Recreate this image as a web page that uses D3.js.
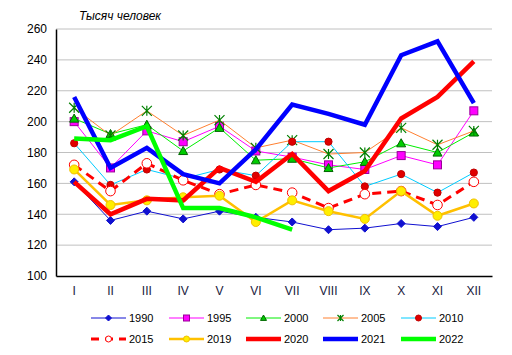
<!DOCTYPE html>
<html><head><meta charset="utf-8">
<script src="https://cdn.jsdelivr.net/npm/d3@7"></script>
<style>body{margin:0;background:#fff;}svg{display:block;font-family:Arial,"Liberation Sans",sans-serif;}</style>
</head><body><svg id="c" width="512" height="355"></svg>
<script>
const months = ["I","II","III","IV","V","VI","VII","VIII","IX","X","XI","XII"];
const yTicks = [100,120,140,160,180,200,220,240,260];
const s1990 = [161,136,142,137,142,138,135,130,131,134,132,138];
const s1995 = [200,170,194,187,197,181,177,172,169,178,172,207];
const s2000 = [202,192,198,181,196,175,176,170,174,186,180,193];
const s2005 = [209,191,207,191,201,183,188,179,180,196,185,194];
const s2010 = [186,159,169,163,169,165,187,187,158,166,154,167];
const s2015 = [172,155,173,162,153,159,154,144,153,155,146,161];
const s2019 = [169,146,149,151,152,135,149,142,137,155,139,147];
const s2020 = [161,140,150,149,170,161,179,155,168,202,216,239];
const s2021 = [216,170,183,166,160,182,211,205,198,243,252,212];
const s2022 = [189,188,197,144,144,138,130];

const series = [
 {name:"1990", data:s1990, color:"#1010d0", width:1, marker:"diamond", mfill:"#1010d0", mstroke:"#1010d0", msize:4},
 {name:"1995", data:s1995, color:"#ff00ff", width:1, marker:"square", mfill:"#ff00ff", mstroke:"#990099", msize:4},
 {name:"2000", data:s2000, color:"#00ee00", width:1, marker:"triangle", mfill:"#00cc00", mstroke:"#006600", msize:4.5},
 {name:"2005", data:s2005, color:"#ff8030", width:1, marker:"asterisk", mfill:"none", mstroke:"#008000", msize:5},
 {name:"2010", data:s2010, color:"#00ccff", width:1, marker:"circle", mfill:"#e00000", mstroke:"#c00000", msize:3.6},
 {name:"2015", data:s2015, color:"#ff0000", width:3, dash:"9,6", marker:"circle", mfill:"#ffffff", mstroke:"#ff0000", msize:4.8},
 {name:"2019", data:s2019, color:"#ffc000", width:2.5, marker:"circle", mfill:"#ffee00", mstroke:"#f0c000", msize:4.5},
 {name:"2020", data:s2020, color:"#ff0000", width:4.5},
 {name:"2021", data:s2021, color:"#0000ff", width:4.5},
 {name:"2022", data:s2022, color:"#00ff00", width:4.5}
];

const svg = d3.select("#c");
const L=56, R=492, T=29, B=276;
const x = d3.scaleBand().domain(months).range([L,R]);
const y = d3.scaleLinear().domain([100,260]).range([B,T]);

svg.append("g").selectAll("line").data(yTicks.filter(v=>v>100)).join("line")
  .attr("x1",L).attr("x2",R).attr("y1",d=>y(d)).attr("y2",d=>y(d))
  .attr("stroke","#c0c0c0").attr("stroke-width",1);

const ya = svg.append("g").attr("transform",`translate(${L},0)`)
  .call(d3.axisLeft(y).tickValues(yTicks).tickSize(0).tickPadding(9));
ya.select(".domain").attr("stroke","#000").attr("stroke-width",1.5);
ya.selectAll("text").attr("font-size",12).attr("fill","#000").attr("font-family","Arial, 'Liberation Sans', sans-serif");
const xa = svg.append("g").attr("transform",`translate(0,${B})`)
  .call(d3.axisBottom(x).tickSize(0).tickPadding(10));
xa.select(".domain").attr("stroke","#000").attr("stroke-width",1.5);
xa.selectAll("text").attr("font-size",12).attr("fill","#1a1a40").attr("font-family","Arial, 'Liberation Sans', sans-serif");

svg.append("text").attr("x",79).attr("y",20).attr("font-size",12).attr("font-style","italic")
  .attr("fill","#000").text("Тысяч человек");

function marker(g, type, cx, cy, s, fill, stroke){
  if(type==="circle"){
    g.append("circle").attr("cx",cx).attr("cy",cy).attr("r",s).attr("fill",fill).attr("stroke",stroke).attr("stroke-width",1);
  } else if(type==="square"){
    g.append("rect").attr("x",cx-s).attr("y",cy-s).attr("width",2*s).attr("height",2*s).attr("fill",fill).attr("stroke",stroke).attr("stroke-width",1);
  } else if(type==="diamond"){
    g.append("path").attr("d",`M${cx},${cy-s}L${cx+s},${cy}L${cx},${cy+s}L${cx-s},${cy}Z`).attr("fill",fill).attr("stroke",stroke);
  } else if(type==="triangle"){
    g.append("path").attr("d",`M${cx},${cy-s}L${cx+s},${cy+s*0.8}L${cx-s},${cy+s*0.8}Z`).attr("fill",fill).attr("stroke",stroke);
  } else if(type==="asterisk"){
    g.append("path").attr("d",`M${cx-s},${cy-s}L${cx+s},${cy+s}M${cx-s},${cy+s}L${cx+s},${cy-s}M${cx},${cy-s}L${cx},${cy+s}`)
      .attr("stroke",stroke).attr("stroke-width",1.2).attr("fill","none");
  }
}

const line = d3.line().x((d,i)=>x(months[i])+x.bandwidth()/2).y(d=>y(d));
const plot = svg.append("g");
series.forEach(s=>{
  const g = plot.append("g");
  g.append("path").attr("d",line(s.data)).attr("fill","none").attr("stroke",s.color)
    .attr("stroke-width",s.width).attr("stroke-dasharray",s.dash||null).attr("stroke-linejoin","miter");
  if(s.marker){
    s.data.forEach((v,i)=>marker(g,s.marker,x(months[i])+x.bandwidth()/2,y(v),s.msize,s.mfill,s.mstroke));
  }
});

const leg = svg.append("g");
const colX = [91,169,246,323,401];
const rowY = [318,339];
series.forEach((s,i)=>{
  const cx = colX[i%5], cy = rowY[Math.floor(i/5)];
  const g = leg.append("g");
  g.append("line").attr("x1",cx).attr("x2",cx+35).attr("y1",cy).attr("y2",cy)
    .attr("stroke",s.color).attr("stroke-width",s.width).attr("stroke-dasharray",s.dash?"8,6":null);
  if(s.marker) marker(g,s.marker,cx+17.5,cy,Math.min(s.msize,3),s.mfill,s.mstroke);
  g.append("text").attr("x",cx+38).attr("y",cy+4).attr("font-size",11).attr("fill","#000").text(s.name);
});
</script></body></html>
